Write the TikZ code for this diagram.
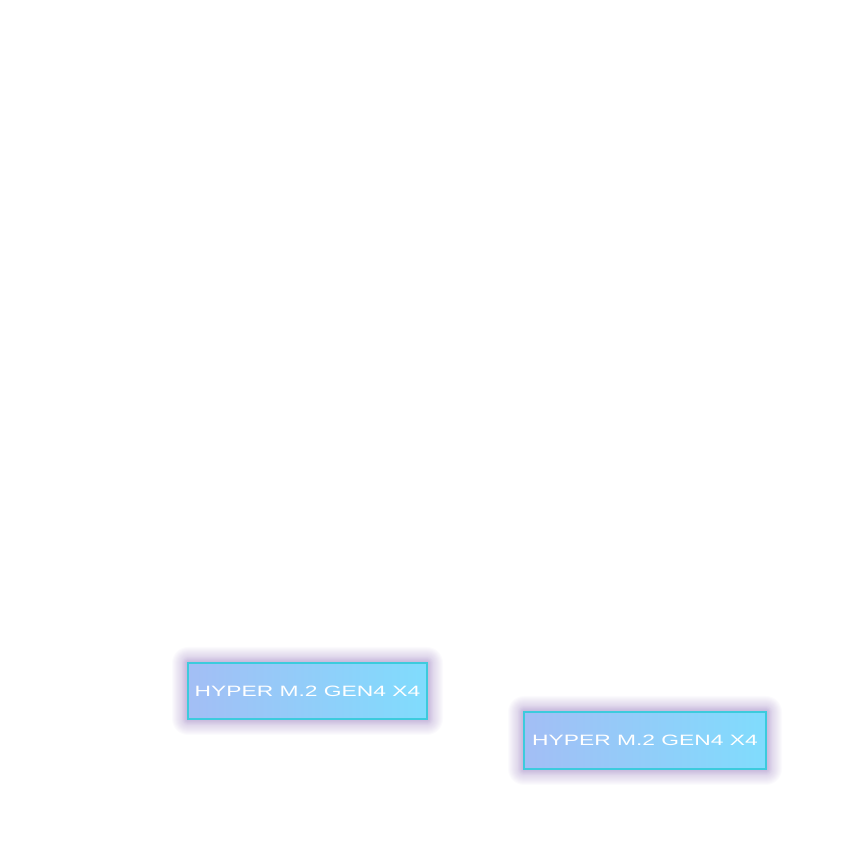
\documentclass[tikz,border=0pt]{standalone}
\usepackage{fontspec}
\usepackage{graphicx}
\setmainfont{Liberation Sans}
\definecolor{glowc}{HTML}{9A80C0}
\definecolor{edgec}{HTML}{3CCBDD}
\definecolor{leftc}{HTML}{A3BEF5}
\definecolor{rightc}{HTML}{80DCFD}
\tikzset{
  hyperbox/.style={draw=edgec, line width=1.6pt, left color=leftc, right color=rightc,
    minimum width=#1, minimum height=56pt, inner sep=0pt, text=white,
    font=\fontsize{15}{15}\selectfont},
}
\newcommand{\glowat}[4]{%
  \foreach \r in {1,2,...,16}{
    \fill[glowc, opacity=0.035, rounded corners=\r pt]
      ({#1-#3/2-\r},{#2-#4/2-\r}) rectangle ({#1+#3/2+\r},{#2+#4/2+\r});
  }
  \foreach \r in {1,2,...,6}{
    \fill[glowc, opacity=0.04, rounded corners=\r pt]
      ({#1-#3/2-\r},{#2-#4/2-\r}) rectangle ({#1+#3/2+\r},{#2+#4/2+\r});
  }}
\begin{document}
\begin{tikzpicture}[x=1pt,y=1pt]
\useasboundingbox (0,0) rectangle (850,850);
\glowat{307.5}{159}{239}{56}
\glowat{645}{109.5}{242}{57}
\node[hyperbox=239pt] (b1) at (307.5,159) {\scalebox{1.52}[1]{HYPER M.2 GEN4 X4}};
\node[hyperbox=242pt, minimum height=57pt] (b2) at (645,109.5) {\scalebox{1.52}[1]{HYPER M.2 GEN4 X4}};
\end{tikzpicture}
\end{document}
